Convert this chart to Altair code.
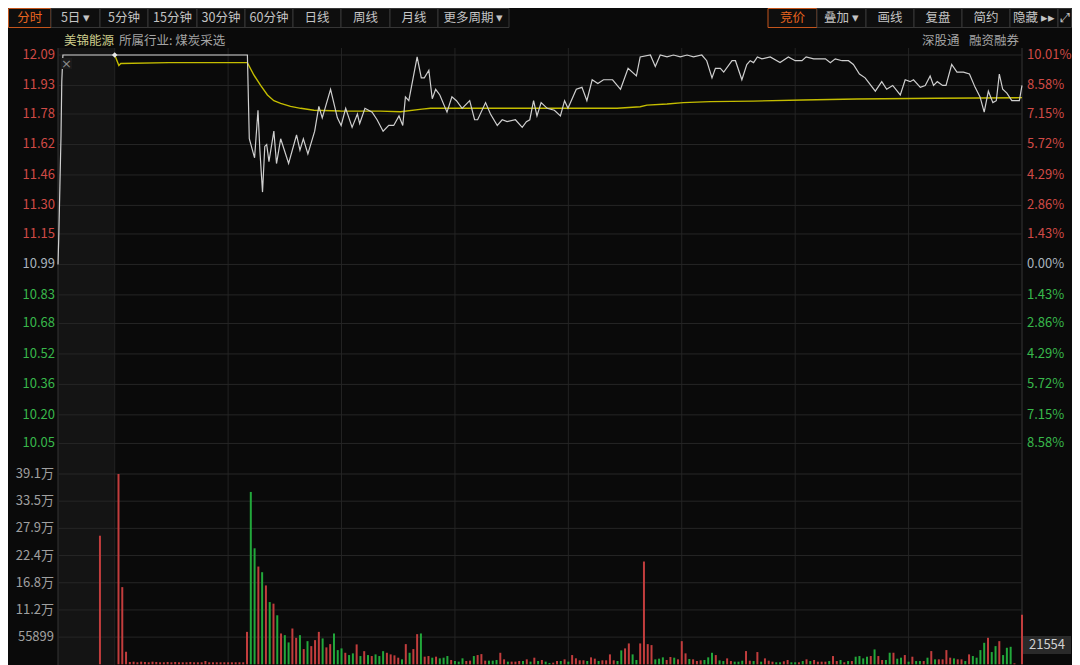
import altair as alt
import pandas as pd

# ---------------- data ----------------
prev_close = 10.99
stock_name = "美锦能源"
industry = "所属行业: 煤炭采选"
right_tags = ["深股通", "融资融券"]
cursor_vol_label = "21554"

# minutes after 9:30 (negative = call auction 9:15-9:30)
price_min = [-15, -14.8, -14.5, -14.2, -14.0, -13.7, 35.1, 35.6, 37.0, 37.9, 38.4, 39.1, 39.7, 40.2, 40.8,
             42.1, 42.8, 43.9, 46.0, 48.1, 49.0, 49.9, 51.1, 52.9, 54.0, 54.9, 57.1, 58.9, 59.9, 61.1,
             62.8, 64.2, 64.8, 66.2, 68.1, 69.4, 71.0, 72.5, 73.8, 75.2, 76.2, 76.9, 77.8, 80.0, 81.1,
             81.9, 83.1, 84.0, 84.9, 86.0, 87.9, 89.2, 90.4, 91.9, 93.9, 95.2, 96.0, 98.1, 99.4, 101.2,
             102.5, 103.8, 106.0, 107.8, 108.9, 109.8, 110.8, 111.7, 112.8, 114.4, 116.3, 117.9, 119.0,
             119.9, 122.1, 123.6, 124.9, 126.3, 127.8, 129.3, 131.7, 133.8, 135.8, 138.0, 139.0, 141.7,
             143.0, 144.3, 146.1, 147.8, 149.6, 151.4, 153.1, 155.3, 156.6, 158.0, 158.9, 160.2, 161.1,
             163.3, 164.2, 165.9, 167.2, 168.1, 169.0, 170.0, 171.2, 173.4, 176.0, 178.2, 180.0, 181.8,
             182.9, 184.9, 188.0, 189.3, 190.6, 192.4, 194.1, 195.4, 197.0, 198.5, 201.2, 202.9, 204.2,
             205.8, 207.8, 209.1, 210.4, 211.3, 213.1, 214.4, 215.7, 216.6, 217.6, 219.0, 219.9, 221.4,
             222.8, 224.5, 226.1, 227.6, 228.9, 230.0, 231.1, 232.3, 233.2, 234.0, 234.9, 236.0, 237.3,
             238.6, 239.3, 240.0]
price_val = [10.99, 11.13, 11.40, 11.67, 11.95, 12.09, 12.09, 11.65, 11.55, 11.80, 11.59, 11.37, 11.61, 11.62,
             11.53, 11.69, 11.52, 11.65, 11.52, 11.67, 11.59, 11.65, 11.57, 11.69, 11.82, 11.76, 11.91, 11.76,
             11.72, 11.81, 11.71, 11.78, 11.73, 11.81, 11.79, 11.75, 11.69, 11.72, 11.72, 11.77, 11.72, 11.87,
             11.85, 12.08, 11.97, 11.97, 12.01, 11.86, 11.91, 11.88, 11.79, 11.87, 11.85, 11.81, 11.85, 11.75,
             11.75, 11.84, 11.78, 11.72, 11.75, 11.74, 11.75, 11.71, 11.74, 11.75, 11.85, 11.77, 11.84, 11.81,
             11.80, 11.77, 11.85, 11.81, 11.91, 11.92, 11.85, 11.96, 11.94, 11.96, 11.96, 11.91, 12.02, 11.98,
             12.08, 12.09, 12.03, 12.09, 12.08, 12.09, 12.08, 12.09, 12.08, 12.09, 12.06, 11.97, 12.02, 12.02,
             12.00, 12.06, 12.06, 11.96, 12.04, 12.06, 12.05, 12.08, 12.07, 12.08, 12.05, 12.08, 12.06, 12.06,
             12.08, 12.07, 12.07, 12.05, 12.07, 12.06, 12.06, 12.04, 11.99, 11.97, 11.90, 11.95, 11.91, 11.93,
             11.88, 11.96, 11.95, 11.96, 11.92, 11.93, 11.98, 11.93, 11.95, 11.93, 11.93, 12.04, 12.00, 12.00,
             11.99, 11.92, 11.87, 11.79, 11.90, 11.84, 11.85, 11.99, 11.91, 11.89, 11.85, 11.85, 11.85, 11.93]

avg_min = [0, 1.1, 1.6, 14.3, 35.1, 36.8, 38.6, 40.4, 42.1, 43.9, 46.5, 49.2, 52.7, 59.7, 70.3, 75.6, 81.3,
           83.5, 112.6, 132.9, 139.0, 140.8, 146.1, 150.4, 157.5, 168.9, 182.1, 196.3, 217.5, 240.0]
avg_val = [12.09, 12.035, 12.045, 12.05, 12.05, 11.985, 11.93, 11.88, 11.85, 11.836, 11.82, 11.81, 11.80,
           11.796, 11.795, 11.792, 11.806, 11.81, 11.81, 11.81, 11.818, 11.827, 11.833, 11.84, 11.845,
           11.848, 11.854, 11.859, 11.863, 11.866]

# volume: call-auction bar, then one bar per minute 1..240
vol_min = [-3.9] + list(range(1, 241))
vol_val = [264400,
           391293, 158700, 25800, 4800, 5400, 4100, 5400, 4800, 4100, 5400,
           4800, 4100, 4100, 4800, 4100, 4800, 4100, 4100, 4100, 4800,
           4100, 4100, 4100, 6700, 4100, 4100, 4100, 4100, 4100, 4100,
           4100, 4100, 4100, 4100, 66700, 354400, 238500, 201000, 189400, 162200,
           128000, 124700, 100800, 63400, 59900, 45000, 73600, 54400, 59900, 31300,
           47600, 37400, 49700, 66700, 53200, 34800, 41500, 63400, 29200, 32700,
           23700, 19000, 22500, 40900, 17000, 27000, 19000, 17000, 20400, 17000,
           27000, 23700, 20400, 18400, 13600, 10200, 41500, 23700, 31300, 62000,
           63400, 15700, 17000, 13600, 15700, 12300, 13600, 17000, 8900, 6800,
           5500, 12300, 6800, 7500, 17000, 19000, 21000, 7500, 7500, 7500,
           8900, 23700, 10200, 5500, 5500, 5500, 6800, 6800, 10200, 5500,
           13600, 6800, 8900, 5500, 2700, 3400, 6800, 6800, 10200, 5500,
           19000, 12300, 8200, 8200, 6800, 14300, 11600, 6800, 8200, 8200,
           20400, 8200, 6800, 28600, 32700, 42900, 20400, 8900, 42900, 211300,
           41500, 39500, 10200, 11600, 14300, 8900, 15000, 13600, 10200, 47600,
           22500, 10900, 10200, 6800, 8200, 8900, 14300, 23700, 19000, 8000,
           6700, 12200, 6700, 5400, 5400, 7400, 27200, 7400, 6700, 25200,
           5400, 12200, 7400, 5400, 4100, 4100, 6100, 8800, 4100, 4100,
           4100, 6700, 10200, 6700, 8800, 5400, 5400, 5400, 6700, 17000,
           6700, 8800, 4100, 6700, 6700, 15600, 17000, 12200, 15600, 17000,
           30600, 17000, 8800, 8800, 23800, 23800, 11500, 13600, 19000, 5400,
           15600, 6700, 6700, 6700, 13600, 27200, 10200, 10200, 10200, 29200,
           13600, 12200, 10200, 10200, 6700, 20400, 17000, 13600, 29200, 44200,
           54500, 25200, 37400, 47600, 19000, 34000, 36000, 2000, 0, 102000]
vol_dir_codes = ("u"
                 "uuuuuuuuuu" "uuuuuuuuuu" "uuuuuuuuuu" "uuuuuddudu" "dududduudu"
                 "duuuduuddd" "uddudududd" "duuuududuu" "duududddud" "dduuduuudd"
                 "duuduuudud" "ududduudud" "uuuuduuduu" "uudduudduu" "uuddduuduu"
                 "uduuudddud" "duuddduudu" "duuudduudd" "ududuuuudu" "udududdddu"
                 "duudduddud" "uddududuuu" "uduududddd" "udduddduuu")

price_ticks = [12.09, 11.93, 11.78, 11.62, 11.46, 11.30, 11.15, 10.99, 10.83, 10.68, 10.52, 10.36, 10.20, 10.05]
pct_ticks = ["10.01%", "8.58%", "7.15%", "5.72%", "4.29%", "2.86%", "1.43%", "0.00%",
             "1.43%", "2.86%", "4.29%", "5.72%", "7.15%", "8.58%"]
vol_ticks = [391293, 335394, 279495, 223596, 167697, 111798, 55899]
vol_tick_labels = ["39.1万", "33.5万", "27.9万", "22.4万", "16.8万", "11.2万", "55899"]
time_grid = [-15, 0, 30, 60, 90, 120, 150, 180, 210, 240]

left_tabs = ["分时", "5日 ▾", "5分钟", "15分钟", "30分钟", "60分钟", "日线", "周线", "月线", "更多周期 ▾"]
right_tabs = ["竞价", "叠加 ▾", "画线", "复盘", "简约", "隐藏 ▸▸", "⤢"]

# ---------------- styling / layout ----------------
FONT = "Noto Sans CJK SC"
BG = "#0a0a0a"
RED, GREEN, GRAY = "#d04a46", "#38b84a", "#a9b3bd"
W, H = 1064, 657

def xs():
    return alt.Scale(domain=[-15, 240], range=[50, 1014], nice=False, zero=False)

def yps():
    return alt.Scale(domain=[10.047, 12.09], range=[436, 47], nice=False, zero=False)

def yvs():
    return alt.Scale(domain=[0, 391293], range=[656.3, 466], nice=False, zero=False)

price_df = pd.DataFrame({"m": price_min, "p": price_val})
avg_df = pd.DataFrame({"m": avg_min, "p": avg_val})
vol_df = pd.DataFrame({"m": vol_min, "v": vol_val,
                       "d": ["up" if c == "u" else "down" for c in vol_dir_codes], "z": 0})
vol_df = vol_df[vol_df["v"] > 0]

ptick_df = pd.DataFrame({"p": price_ticks, "lab": [f"{t:.2f}" for t in price_ticks], "pct": pct_ticks,
                         "a": -15, "b": 240})
ptick_df["c"] = [RED if t > prev_close + 1e-9 else (GRAY if abs(t - prev_close) < 1e-9 else GREEN)
                 for t in price_ticks]
vtick_df = pd.DataFrame({"v": vol_ticks, "lab": vol_tick_labels, "a": -15, "b": 240})
vg_df = pd.DataFrame({"m": time_grid})
vg_df["c"] = ["#353535" if t in (-15, 240) else "#232323" for t in time_grid]

# auction shading
L_bg = alt.Chart(pd.DataFrame({"a": [-15], "b": [0]})).mark_rect(color="#141414").encode(
    x=alt.X("a:Q", scale=xs(), axis=None), x2="b:Q", y=alt.value(40), y2=alt.value(H))

L_vgrid = alt.Chart(vg_df).mark_rule(strokeWidth=1).encode(
    x=alt.X("m:Q", scale=xs(), axis=None), y=alt.value(40), y2=alt.value(H),
    color=alt.Color("c:N", scale=None))

L_hgrid_p = alt.Chart(ptick_df).mark_rule(color="#262626", strokeWidth=1).encode(
    x=alt.X("a:Q", scale=xs(), axis=None), x2="b:Q", y=alt.Y("p:Q", scale=yps(), axis=None))

L_hgrid_v = alt.Chart(vtick_df).mark_rule(color="#262626", strokeWidth=1).encode(
    x=alt.X("a:Q", scale=xs(), axis=None), x2="b:Q", y=alt.Y("v:Q", scale=yvs(), axis=None))

L_avg = alt.Chart(avg_df).mark_line(color="#c4bd00", strokeWidth=1.4).encode(
    x=alt.X("m:Q", scale=xs(), axis=None), y=alt.Y("p:Q", scale=yps(), axis=None))

L_price = alt.Chart(price_df).mark_line(color="#cfcfcf", strokeWidth=1.2).encode(
    x=alt.X("m:Q", scale=xs(), axis=None), y=alt.Y("p:Q", scale=yps(), axis=None))

L_diamond = alt.Chart(pd.DataFrame({"m": [0], "p": [12.09]})).mark_point(
    shape="diamond", filled=True, size=30, color="#e8e8e8", opacity=1).encode(
    x=alt.X("m:Q", scale=xs(), axis=None), y=alt.Y("p:Q", scale=yps(), axis=None))

L_vol = alt.Chart(vol_df).mark_rule(strokeWidth=2).encode(
    x=alt.X("m:Q", scale=xs(), axis=None),
    y=alt.Y("v:Q", scale=yvs(), axis=None), y2="z:Q",
    color=alt.Color("d:N", scale=alt.Scale(domain=["up", "down"], range=["#c23d3d", "#22a83b"]),
                    legend=None))

L_plab = alt.Chart(ptick_df).mark_text(align="right", baseline="middle", fontSize=13, font=FONT).encode(
    x=alt.value(47), y=alt.Y("p:Q", scale=yps(), axis=None), text="lab:N",
    color=alt.Color("c:N", scale=None))

L_pctlab = alt.Chart(ptick_df).mark_text(align="left", baseline="middle", fontSize=13, font=FONT).encode(
    x=alt.value(1019), y=alt.Y("p:Q", scale=yps(), axis=None), text="pct:N",
    color=alt.Color("c:N", scale=None))

L_vlab = alt.Chart(vtick_df).mark_text(align="right", baseline="middle", fontSize=13, font=FONT,
                                       color="#a0a0a0").encode(
    x=alt.value(46), y=alt.Y("v:Q", scale=yvs(), axis=None), text="lab:N")

# header texts
L_name = alt.Chart(pd.DataFrame({"t": [stock_name]})).mark_text(
    align="left", baseline="middle", fontSize=12.5, font=FONT, color="#cccc8c").encode(
    x=alt.value(56), y=alt.value(33), text="t:N")
L_ind = alt.Chart(pd.DataFrame({"t": [industry]})).mark_text(
    align="left", baseline="middle", fontSize=12.5, font=FONT, color="#a4a4a4").encode(
    x=alt.value(111), y=alt.value(33), text="t:N")
L_tags = alt.Chart(pd.DataFrame({"t": right_tags, "x": [914, 961]})).mark_text(
    align="left", baseline="middle", fontSize=12.5, font=FONT, color="#a4a4a4").encode(
    x=alt.X("x:Q", scale=None), y=alt.value(33), text="t:N")

# close box
L_xbox = alt.Chart(pd.DataFrame({"t": ["×"]})).mark_rect(color="#1b1b1b").encode(
    x=alt.value(53), x2=alt.value(64), y=alt.value(50), y2=alt.value(61))
L_xtxt = alt.Chart(pd.DataFrame({"t": ["×"]})).mark_text(
    fontSize=13, font="DejaVu Sans", color="#8a8a8a", baseline="middle").encode(
    x=alt.value(58.5), y=alt.value(55.5), text="t:N")

# toolbar
left_edges = [0.5, 43, 92, 140, 189, 237, 285, 333, 382, 430, 501]
right_edges = [760, 809, 858, 906, 954, 1002, 1050, 1063.5]
tab_rows = []
for i, lab in enumerate(left_tabs):
    tab_rows.append({"label": lab, "x0": left_edges[i], "x1": left_edges[i + 1], "active": i == 0})
for i, lab in enumerate(right_tabs):
    tab_rows.append({"label": lab, "x0": right_edges[i], "x1": right_edges[i + 1], "active": i == 0})
tab_df = pd.DataFrame(tab_rows)
tab_df["cx"] = (tab_df["x0"] + tab_df["x1"]) / 2
tab_df["sc"] = ["#c4551c" if a else "#363636" for a in tab_df["active"]]
tab_df["tc"] = ["#e8651f" if a else "#c4c4c4" for a in tab_df["active"]]

L_tab_rect = alt.Chart(tab_df).mark_rect(fill="#0e0e0e", strokeWidth=1).encode(
    x=alt.X("x0:Q", scale=None), x2="x1:Q", y=alt.value(0.5), y2=alt.value(19.5),
    stroke=alt.Stroke("sc:N", scale=None))
L_tab_txt = alt.Chart(tab_df).mark_text(align="center", baseline="middle", fontSize=12.5, font=FONT).encode(
    x=alt.X("cx:Q", scale=None), y=alt.value(10), text="label:N", color=alt.Color("tc:N", scale=None))

# cursor volume label
L_cur_rect = alt.Chart(pd.DataFrame({"t": [cursor_vol_label]})).mark_rect(color="#2a2a2a").encode(
    x=alt.value(1015), x2=alt.value(1063), y=alt.value(628), y2=alt.value(646))
L_cur_txt = alt.Chart(pd.DataFrame({"t": [cursor_vol_label]})).mark_text(
    align="center", baseline="middle", fontSize=13, font=FONT, color="#d0d0d0").encode(
    x=alt.value(1039), y=alt.value(637), text="t:N")

chart = alt.layer(
    L_bg, L_vgrid, L_hgrid_p, L_hgrid_v, L_vol, L_avg, L_price, L_diamond,
    L_plab, L_pctlab, L_vlab, L_name, L_ind, L_tags, L_xbox, L_xtxt,
    L_tab_rect, L_tab_txt, L_cur_rect, L_cur_txt
).resolve_scale(
    x="independent", y="independent", color="independent", stroke="independent"
).properties(
    width=W, height=H, autosize=alt.AutoSizeParams(type="none"), padding=0, background=BG
).configure_view(stroke=None)

chart.save("out.html", embed_options={"renderer": "svg", "actions": False})
